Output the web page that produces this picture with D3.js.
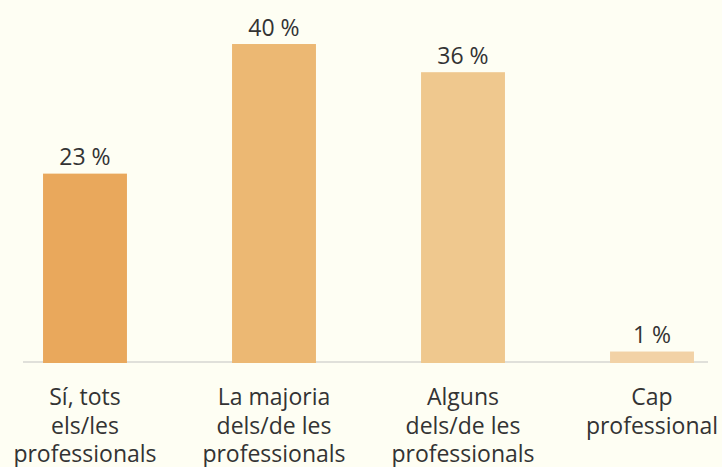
<!DOCTYPE html>
<html lang="ca">
<head>
<meta charset="UTF-8">
<title>Professionals</title>
<style>
    body {
        margin: 0;
        background-color: #fefef3;
    }
    svg text {
        font-family: "Open Sans", sans-serif;
        font-size: 23px;
        fill: #333333;
    }
</style>
</head>
<body>
<div id="chart"></div>
<script src="https://d3js.org/d3.v7.min.js"></script>
<script>
    // dades
    const categories = [
        ["Sí, tots", "els/les", "professionals"],
        ["La majoria", "dels/de les", "professionals"],
        ["Alguns", "dels/de les", "professionals"],
        ["Cap", "professional"]
    ];
    const values = [23.4, 39.5, 36.0, 1.3];
    const colors = ["#e9a85c", "#ecb873", "#efc88e", "#f2d2a6"];

    const width = 722;
    const height = 467;
    const baseY = 362;

    const svg = d3.select("#chart")
        .append("svg")
        .attr("width", width)
        .attr("height", height);

    const x = d3.scaleBand()
        .domain(d3.range(values.length))
        .range([23, 714])
        .paddingInner(0.556)
        .paddingOuter(0.106);

    const y = d3.scaleLinear()
        .domain([0, 40])
        .range([baseY, 40]);

    // linia de base
    svg.append("line")
        .attr("x1", 23)
        .attr("x2", 708)
        .attr("y1", baseY)
        .attr("y2", baseY)
        .attr("stroke", "#e0e0da")
        .attr("stroke-width", 2);

    svg.selectAll("rect.bar")
        .data(values)
        .enter()
        .append("rect")
        .attr("class", "bar")
        .attr("x", (d, i) => x(i))
        .attr("y", d => y(d))
        .attr("width", x.bandwidth())
        .attr("height", d => y(0) - y(d) + 1)
        .attr("fill", (d, i) => colors[i]);

    svg.selectAll("text.value")
        .data(values)
        .enter()
        .append("text")
        .attr("class", "value")
        .attr("x", (d, i) => x(i) + x.bandwidth() / 2)
        .attr("y", d => y(d) - 8.5)
        .attr("text-anchor", "middle")
        .text(d => Math.round(d) + " %");

    const labels = svg.selectAll("text.cat")
        .data(categories)
        .enter()
        .append("text")
        .attr("class", "cat")
        .attr("text-anchor", "middle")
        .attr("x", (d, i) => x(i) + x.bandwidth() / 2)
        .attr("y", baseY + 43);

    labels.selectAll("tspan")
        .data(d => d)
        .enter()
        .append("tspan")
        .attr("x", function () { return d3.select(this.parentNode).attr("x"); })
        .attr("dy", (d, j) => j === 0 ? 0 : 28.5)
        .text(d => d);
</script>
</body>
</html>
